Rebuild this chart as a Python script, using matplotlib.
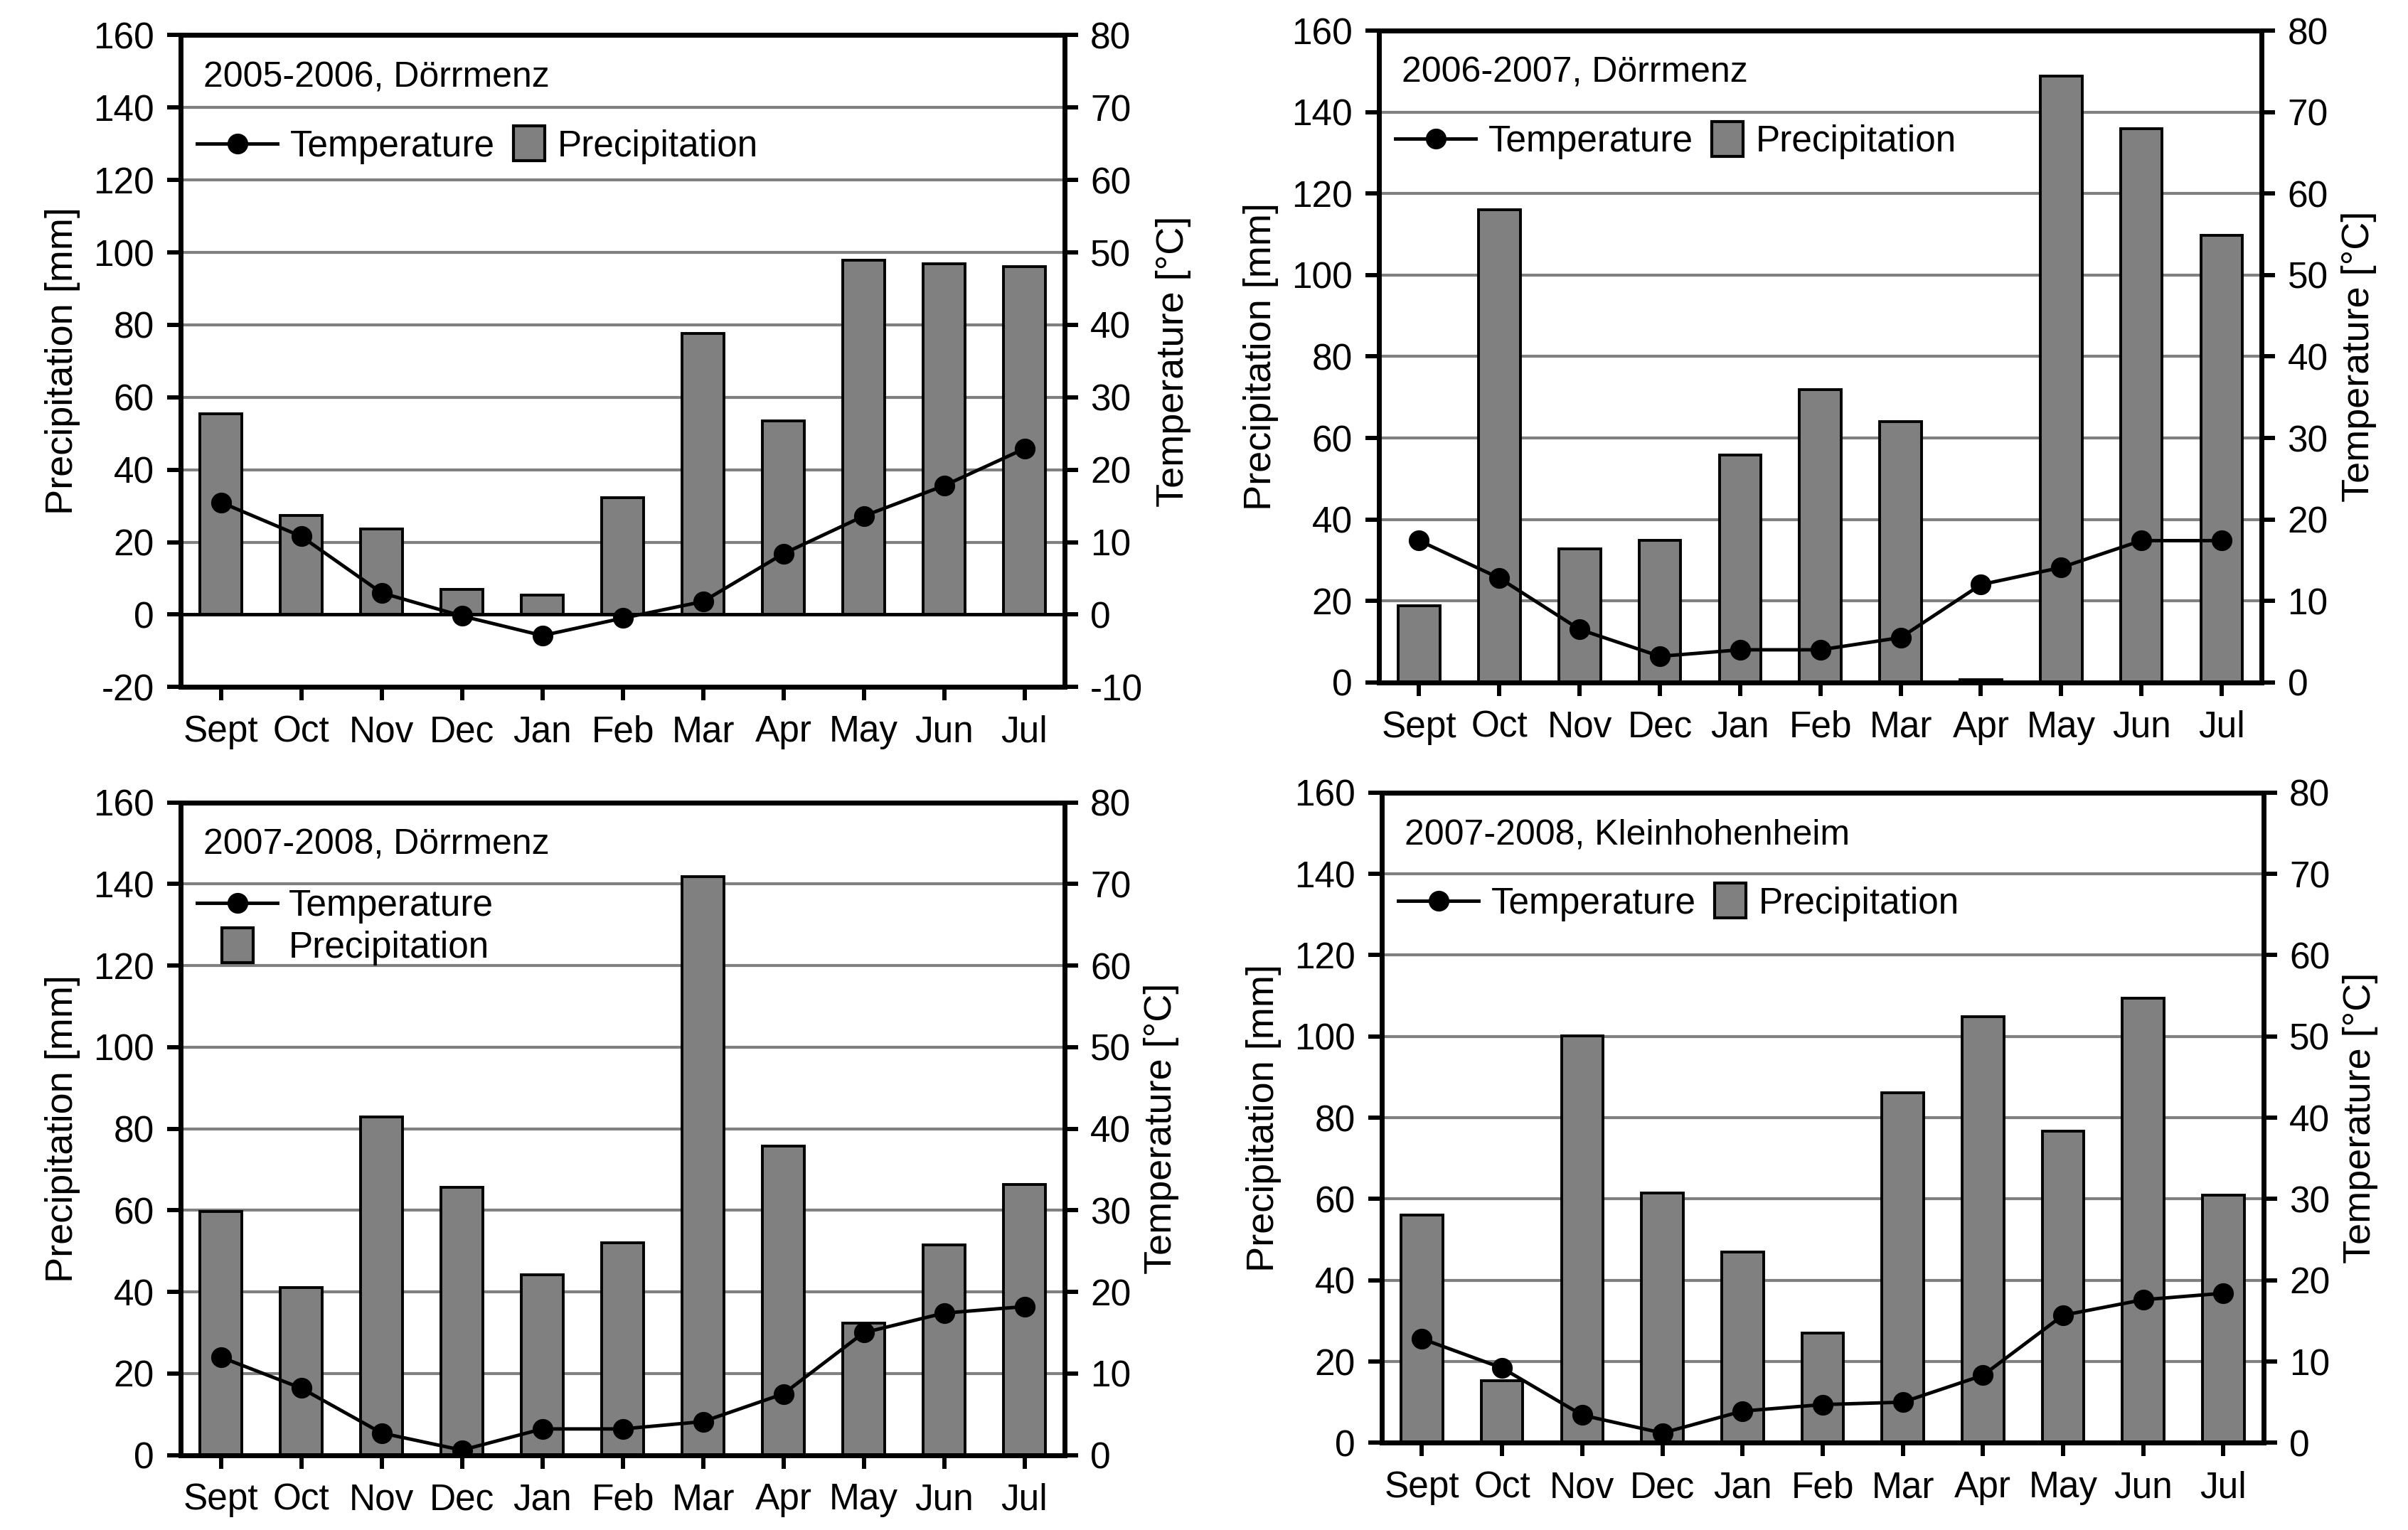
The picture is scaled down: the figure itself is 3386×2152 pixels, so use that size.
import numpy as np
import matplotlib
matplotlib.use('Agg')
import matplotlib.pyplot as plt
from matplotlib.lines import Line2D
from matplotlib.patches import Patch, Rectangle
from matplotlib.legend_handler import HandlerPatch

plt.rcParams['font.family'] = ['Liberation Sans', 'DejaVu Sans']
plt.rcParams['axes.unicode_minus'] = False

months = ['Sept', 'Oct', 'Nov', 'Dec', 'Jan', 'Feb', 'Mar', 'Apr', 'May', 'Jun', 'Jul']

# 2005-2006, Dörrmenz
precip_0506 = [55.4, 27.4, 23.6, 6.9, 5.3, 32.3, 77.6, 53.4, 97.8, 96.9, 96.1]
temp_0506 = [15.5, 10.8, 3.0, -0.2, -2.9, -0.5, 1.8, 8.4, 13.6, 17.8, 22.9]

# 2006-2007, Dörrmenz
precip_0607 = [18.8, 116.0, 32.7, 34.9, 55.8, 71.8, 64.0, 0.7, 148.9, 136.0, 109.8]
temp_0607 = [17.4, 12.8, 6.5, 3.2, 4.0, 4.0, 5.5, 12.0, 14.1, 17.4, 17.4]

# 2007-2008, Dörrmenz
precip_0708d = [59.7, 41.0, 82.9, 65.7, 44.2, 52.1, 141.9, 75.7, 32.4, 51.5, 66.3]
temp_0708d = [12.0, 8.2, 2.7, 0.6, 3.2, 3.2, 4.1, 7.5, 15.0, 17.4, 18.2]

# 2007-2008, Kleinhohenheim
precip_0708k = [56.1, 15.3, 100.1, 61.5, 46.9, 27.0, 86.1, 104.9, 76.7, 109.4, 60.9]
temp_0708k = [12.8, 9.2, 3.4, 1.2, 3.9, 4.7, 5.0, 8.3, 15.7, 17.6, 18.4]

titles = ['2005-2006, Dörrmenz', '2006-2007, Dörrmenz',
          '2007-2008, Dörrmenz', '2007-2008, Kleinhohenheim']

FS = 37
LFS = 39
GRAY = '#808080'
SPINE = 4.8


# small upright box for the precipitation legend entry
def box_right(legend, orig_handle, xdescent, ydescent, width, height, fontsize):
    w = 0.85 * fontsize
    h = 0.95 * fontsize
    return Rectangle((-xdescent + width - w, -ydescent + height / 2 - h / 2), w, h)


def box_center(legend, orig_handle, xdescent, ydescent, width, height, fontsize):
    w = 0.85 * fontsize
    h = 0.95 * fontsize
    return Rectangle((-xdescent + width / 2 - w / 2, -ydescent + height / 2 - h / 2), w, h)


def panel(fig, rect, precip, temp, title, ymin, stacked_legend=False):
    ax = fig.add_axes(rect)
    x = np.arange(len(months))
    ax.set_xlim(-0.5, len(months) - 0.5)
    ax.set_ylim(ymin, 160)
    ax.set_yticks(np.arange(ymin, 161, 20))
    for g in range(20, 160, 20):
        ax.axhline(g, color=GRAY, lw=3, zorder=0)
    if ymin < 0:
        ax.axhline(0, color='black', lw=3.5, zorder=3)
    ax.bar(x, precip, width=0.52, color=GRAY, edgecolor='black', lw=2.8, zorder=2)
    ax.set_xticks(x)
    ax.set_xticklabels(months)
    ax.set_ylabel('Precipitation [mm]', fontsize=LFS, labelpad=13)
    ax.tick_params(axis='both', labelsize=FS, width=4.3, length=14, direction='out')
    ax.tick_params(axis='y', pad=13)
    ax.tick_params(axis='x', pad=14)
    for s in ax.spines.values():
        s.set_linewidth(SPINE)

    ax2 = ax.twinx()
    ax2.set_ylim(ymin / 2, 80)
    ax2.set_yticks(np.arange(ymin // 2, 81, 10))
    ax2.plot(x, temp, color='black', lw=3.5, marker='o', ms=20, zorder=5)
    ax2.set_ylabel('Temperature [°C]', fontsize=LFS, labelpad=13)
    ax2.tick_params(axis='y', labelsize=FS, width=4.3, length=14, direction='out', pad=12)
    for s in ax2.spines.values():
        s.set_linewidth(SPINE)

    ax.text(0.026, 0.935, title, transform=ax.transAxes, fontsize=36,
            va='center', ha='left')

    pbox = Patch(facecolor=GRAY, edgecolor='black', lw=3)
    handles = [Line2D([], [], color='black', lw=3.5, marker='o', ms=20), pbox]
    labels = ['Temperature', 'Precipitation']
    if stacked_legend:
        ax2.legend(handles, labels, loc='center left', bbox_to_anchor=(0.0, 0.809),
                   frameon=False, fontsize=FS, ncol=1, handlelength=2.2,
                   handletextpad=0.3, labelspacing=0.2, borderaxespad=0.05,
                   handler_map={pbox: HandlerPatch(patch_func=box_center)})
    else:
        ax2.legend(handles, labels, loc='center left', bbox_to_anchor=(0.0, 0.829),
                   frameon=False, fontsize=FS, ncol=2, handlelength=2.2,
                   handletextpad=0.35, columnspacing=-0.85, borderaxespad=0.05,
                   handler_map={pbox: HandlerPatch(patch_func=box_right)})
    return ax, ax2


fig = plt.figure(figsize=(33.87, 21.52), dpi=100)
panel(fig, [0.075, 0.551, 0.367, 0.426], precip_0506, temp_0506, titles[0], -20)
panel(fig, [0.5725, 0.554, 0.3665, 0.426], precip_0607, temp_0607, titles[1], 0)
panel(fig, [0.075, 0.049, 0.367, 0.4265], precip_0708d, temp_0708d, titles[2], 0,
      stacked_legend=True)
panel(fig, [0.5737, 0.057, 0.366, 0.425], precip_0708k, temp_0708k, titles[3], 0)

fig.savefig('out.png', dpi=100, facecolor='white')
